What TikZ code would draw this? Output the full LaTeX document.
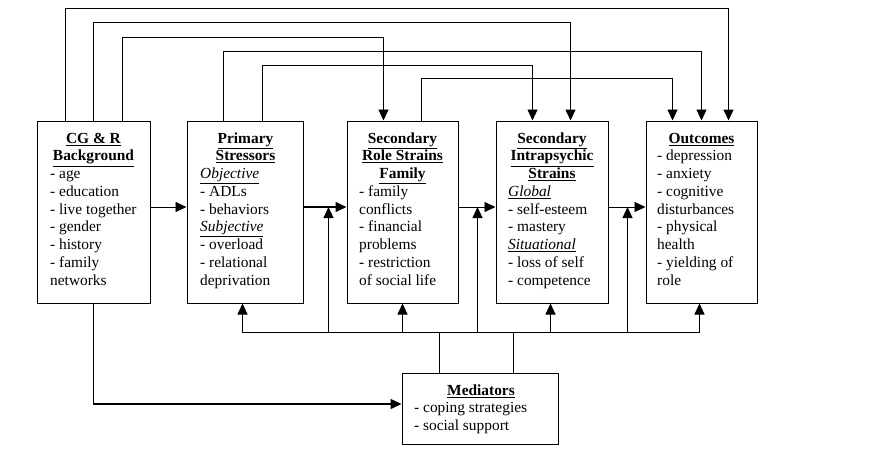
\documentclass[tikz,border=0pt]{standalone}
\usepackage{fontspec}
\setmainfont{Liberation Serif}
\usetikzlibrary{arrows.meta}
\begin{document}
\begin{tikzpicture}[x=1pt,y=-1pt,
  box/.style={draw, line width=1pt, inner sep=0pt},
  ln/.style={line width=0.9pt},
  thk/.style={line width=1.5pt},
  arr/.style={ln, -{Triangle[length=11pt,width=10pt]}},
  tarr/.style={thk, -{Triangle[length=11pt,width=10pt]}},
  hd/.style={font=\fontsize{15.4}{17.75}\selectfont\bfseries, align=center, anchor=north, inner sep=0pt},
  bd/.style={font=\fontsize{15.4}{17.75}\selectfont, align=left, anchor=north west, inner sep=0pt},
]
\useasboundingbox (0,0) rectangle (880,451);

% boxes
\node[box, minimum width=113pt, minimum height=182pt] (cg) at (93.5,212) {};
\node[box, minimum width=116pt, minimum height=182pt] (ps) at (245,212) {};
\node[box, minimum width=111pt, minimum height=182pt] (rs) at (402.5,212) {};
\node[box, minimum width=112pt, minimum height=182pt] (is) at (552,212) {};
\node[box, minimum width=111pt, minimum height=182pt] (oc) at (701.5,212) {};
\node[box, minimum width=156pt, minimum height=71pt] (med) at (480,408.5) {};

% texts
\node[hd] (cgh) at (93.5,130.6) {\strut\underline{CG \& R}\\\underline{Background}};
\node[bd] (cgb) at (50,166.1) {\strut- age\\- education\\- live together\\- gender\\- history\\- family\\networks};

\node[hd] (psh) at (245.5,130.6) {\strut\underline{Primary}\\\underline{Stressors}};
\node[bd] (psb) at (200,166.1) {\strut\underline{\textit{Objective}}\\- ADLs\\- behaviors\\\underline{\textit{Subjective}}\\- overload\\- relational\\deprivation};

\node[hd] (rsh) at (402.5,130.6) {\strut\underline{Secondary}\\\underline{Role Strains}\\\underline{Family}};
\node[bd] (rsb) at (359,183.8) {\strut- family\\conflicts\\- financial\\problems\\- restriction\\of social life};

\node[hd] (ish) at (552,130.6) {\strut\underline{Secondary}\\\underline{Intrapsychic}\\\underline{Strains}};
\node[bd] (isb) at (508,183.8) {\strut\underline{\textit{Global}}\\- self-esteem\\- mastery\\\underline{\textit{Situational}}\\- loss of self\\- competence};

\node[hd] (och) at (701.5,130.6) {\strut\underline{Outcomes}};
\node[bd] (ocb) at (657,148.3) {\strut- depression\\- anxiety\\- cognitive\\disturbances\\- physical\\health\\- yielding of\\role};

\node[hd] (medh) at (481,382.6) {\strut\underline{Mediators}};
\node[bd] (medb) at (414,400.3) {\strut- coping strategies\\- social support};

% top feedback arrows
\draw[tarr] ([xshift=29pt]cg.north west) -- ++(0,-112) -| ([xshift=83pt]oc.north west);
\draw[tarr] ([xshift=57pt]cg.north west) -- ++(0,-98) -| ([xshift=75pt]is.north west);
\draw[arr] ([xshift=86pt]cg.north west) -- ++(0,-83) -| ([xshift=37pt]rs.north west);
\draw[arr] ([xshift=37pt]ps.north west) -- ++(0,-69) -| ([xshift=56pt]oc.north west);
\draw[arr] ([xshift=76pt]ps.north west) -- ++(0,-55) -| ([xshift=37pt]is.north west);
\draw[arr] ([xshift=75pt]rs.north west) -- ++(0,-42) -| ([xshift=27pt]oc.north west);

% horizontal arrows
\draw[arr] ([yshift=5pt]cg.east) -- ([yshift=5pt]ps.west);
\draw[tarr] ([yshift=5pt]ps.east) -- ([yshift=5pt]rs.west);
\draw[arr] ([yshift=5pt]rs.east) -- ([yshift=5pt]is.west);
\draw[arr] ([yshift=5pt]is.east) -- ([yshift=5pt]oc.west);

% mediator bus
\draw[arr] ([xshift=54pt]oc.south west) ++(0,29) -| ([xshift=56pt]ps.south west);
\draw[arr] ([xshift=54pt]oc.south west) ++(0,29) -- ([xshift=54pt]oc.south west);
\draw[arr] ([xshift=56pt]rs.south west) ++(0,29) -- ([xshift=56pt]rs.south west);
\draw[arr] ([xshift=55pt]is.south west) ++(0,29) -- ([xshift=55pt]is.south west);
\draw[arr] ([xshift=25pt,yshift=5pt]ps.east) ++(0,125) -- ([xshift=25pt,yshift=5pt]ps.east);
\draw[arr] ([xshift=19pt,yshift=5pt]rs.east) ++(0,125) -- ([xshift=19pt,yshift=5pt]rs.east);
\draw[arr] ([xshift=19pt,yshift=5pt]is.east) ++(0,125) -- ([xshift=19pt,yshift=5pt]is.east);
\draw[ln] ([xshift=38pt]med.north west) -- ++(0,-41);
\draw[ln] ([xshift=112pt]med.north west) -- ++(0,-41);

% background to mediators
\draw[tarr] ([xshift=57pt]cg.south west) |- ([yshift=4.5pt]med.west);
\end{tikzpicture}
\end{document}
